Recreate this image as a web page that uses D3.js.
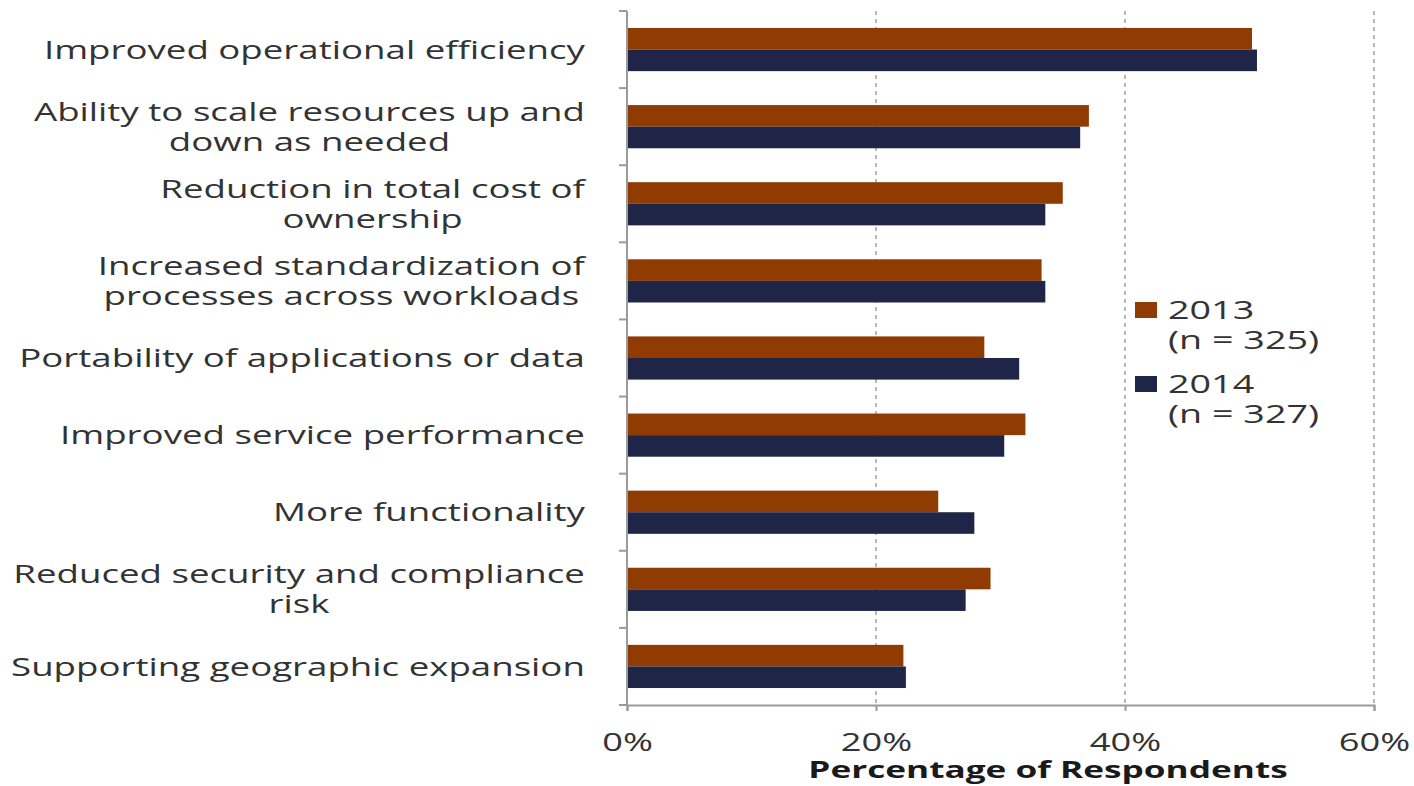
<!DOCTYPE html>
<html>
<head>
<meta charset="utf-8">
<script src="https://cdn.jsdelivr.net/npm/d3@7"></script>
<style>
  body { margin: 0; padding: 0; background: #ffffff; }
</style>
</head>
<body>
<script>
const categories = [
  "Improved operational efficiency",
  "Ability to scale resources up and\ndown as needed",
  "Reduction in total cost of\nownership",
  "Increased standardization of\nprocesses across workloads",
  "Portability of applications or data",
  "Improved service performance",
  "More functionality",
  "Reduced security and compliance\nrisk",
  "Supporting geographic expansion",
];
const seriesNames = ["2013", "2014"];
const seriesNotes = ["(n = 325)", "(n = 327)"];
const values2013 = [50.2, 37.1, 35.0, 33.3, 28.7, 32.0, 25.0, 29.2, 22.2];
const values2014 = [50.6, 36.4, 33.6, 33.6, 31.5, 30.3, 27.9, 27.2, 22.4];
const xTicks = [0, 20, 40, 60];
const axisTitle = "Percentage of Respondents";

const width = 1414;
const height = 786;
const colors = ["#8f3b02", "#1f2546"];
const textColor = "#333333";
const font = "'Open Sans', sans-serif";
const sx = 1.41; // the source image is stretched horizontally

const svg = d3
  .select("body")
  .append("svg")
  .attr("width", width)
  .attr("height", height)
  .style("font-family", font)
  .style("background", "#ffffff");

const x = d3.scaleLinear().domain([0, 60]).range([627, 1374]);
const y = d3
  .scaleBand()
  .domain(categories)
  .range([11, 705])
  .paddingInner(0.44)
  .paddingOuter(0.22);
const ySub = d3.scaleBand().domain([0, 1]).range([0, y.bandwidth()]);

// grid
svg
  .append("g")
  .selectAll("line")
  .data(xTicks.filter((d) => d > 0))
  .join("line")
  .attr("x1", (d) => x(d))
  .attr("x2", (d) => x(d))
  .attr("y1", y.range()[0])
  .attr("y2", y.range()[1])
  .attr("stroke", "#8a8a8a")
  .attr("stroke-width", 1.2)
  .attr("stroke-dasharray", "4,4");

// bars
const rows = categories.map((c, i) => ({
  cat: c,
  vals: [values2013[i], values2014[i]],
}));

svg
  .append("g")
  .selectAll("g")
  .data(rows)
  .join("g")
  .attr("transform", (d) => `translate(0,${y(d.cat)})`)
  .selectAll("rect")
  .data((d) => d.vals.map((v, k) => ({ v, k })))
  .join("rect")
  .attr("x", x(0))
  .attr("y", (d) => ySub(d.k))
  .attr("width", (d) => x(d.v) - x(0))
  .attr("height", ySub.bandwidth())
  .attr("fill", (d) => colors[d.k]);

// left axis with ticks at band boundaries
const yAxis = svg.append("g");
yAxis
  .append("line")
  .attr("x1", x(0))
  .attr("x2", x(0))
  .attr("y1", y.range()[0])
  .attr("y2", y.range()[1])
  .attr("stroke", "#9a9a9a")
  .attr("stroke-width", 2);
yAxis
  .selectAll("line.tick")
  .data(d3.range(categories.length + 1))
  .join("line")
  .attr("class", "tick")
  .attr("x1", x(0) - 8)
  .attr("x2", x(0))
  .attr("y1", (i) => y.range()[0] + i * y.step())
  .attr("y2", (i) => y.range()[0] + i * y.step())
  .attr("stroke", "#9a9a9a")
  .attr("stroke-width", 2);

// bottom axis
const xAxis = svg
  .append("g")
  .attr("transform", `translate(0,${y.range()[1]})`)
  .call(
    d3
      .axisBottom(x)
      .tickValues(xTicks)
      .tickFormat((d) => d + "%")
      .tickSize(6)
      .tickPadding(22)
  );
xAxis.select(".domain").attr("stroke", "#9a9a9a").attr("stroke-width", 2);
xAxis.selectAll(".tick line").attr("stroke", "#9a9a9a").attr("stroke-width", 2);
xAxis
  .selectAll(".tick text")
  .attr("fill", textColor)
  .style("font-family", font)
  .style("font-size", "25px")
  .attr("transform", "scale(1.45,1)");

svg
  .append("text")
  .attr("transform", "translate(1048,778) scale(1.53,1)")
  .attr("text-anchor", "middle")
  .attr("fill", "#1a1a1a")
  .style("font-size", "23px")
  .style("font-weight", "700")
  .text(axisTitle);

// category labels, right aligned block, lines centred within block
const labelRight = 585;
const lineGap = 30;
rows.forEach((r) => {
  const lines = r.cat.split("\n");
  const cy = y(r.cat) + y.bandwidth() / 2;
  const g = svg.append("g");
  const texts = lines.map((t) =>
    g
      .append("text")
      .attr("text-anchor", "middle")
      .attr("dy", "0.35em")
      .attr("fill", textColor)
      .style("font-size", "26px")
      .text(t)
  );
  const maxW = d3.max(texts, (t) => t.node().getComputedTextLength());
  const cx = labelRight - (maxW * sx) / 2;
  texts.forEach((t, i) => {
    const ly = cy + (i - (lines.length - 1) / 2) * lineGap;
    t.attr("transform", `translate(${cx},${ly}) scale(${sx},1)`);
  });
});

// legend
const legend = svg
  .append("g")
  .selectAll("g")
  .data(seriesNames)
  .join("g")
  .attr("transform", (d, i) => `translate(1135,${310 + i * 74})`);

legend
  .append("rect")
  .attr("x", 0)
  .attr("y", -8)
  .attr("width", 22)
  .attr("height", 16)
  .attr("fill", (d, i) => colors[i]);

legend
  .append("text")
  .attr("transform", "translate(33,0) scale(1.45,1)")
  .attr("dy", "0.35em")
  .attr("fill", textColor)
  .style("font-size", "26px")
  .text((d) => d);

legend
  .append("text")
  .attr("transform", "translate(33,30) scale(1.45,1)")
  .attr("dy", "0.35em")
  .attr("fill", textColor)
  .style("font-size", "26px")
  .text((d, i) => seriesNotes[i]);
</script>
</body>
</html>
